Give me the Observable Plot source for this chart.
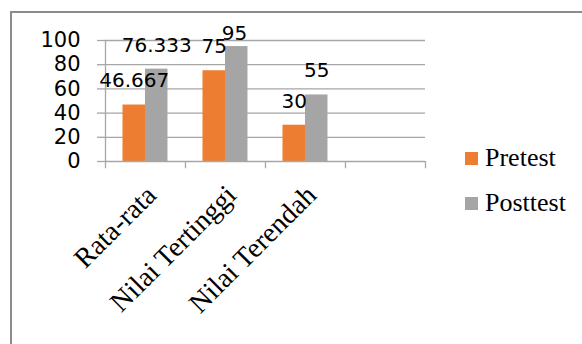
<!DOCTYPE html>
<html>
<head>
<meta charset="utf-8">
<script src="https://cdn.jsdelivr.net/npm/d3@7"></script>
<script src="https://cdn.jsdelivr.net/npm/@observablehq/plot@0.6"></script>
<style>
  html, body { margin: 0; padding: 0; background: #fff; }
  #wrap { position: relative; width: 582px; height: 344px; overflow: hidden; background: #fff; }
  #frame { position: absolute; left: 10px; top: 11px; width: 620px; height: 400px; border: 2px solid #8c8c8c; box-sizing: border-box; }
  #chart { position: absolute; left: 0; top: 0; }
  #legend { position: absolute; left: 465px; top: 142px; font-family: "Liberation Serif", serif; font-size: 26px; color: #000; }
  .item { display: flex; align-items: center; height: 32px; margin-bottom: 13px; }
  .sw { width: 13px; height: 13px; margin-right: 7px; }
</style>
</head>
<body>
<div id="wrap">
  <div id="frame"></div>
  <div id="chart"></div>
  <div id="legend"></div>
</div>
<script>
const categories = ["Rata-rata", "Nilai Tertinggi", "Nilai Terendah", ""];
const series = ["Pretest", "Posttest"];
const pretest = [46.667, 75, 30];
const posttest = [76.333, 95, 55];
const yTicks = [0, 20, 40, 60, 80, 100];
const colors = ["#ED7D31", "#A5A5A5"];

const data = categories.slice(0, 3).flatMap((c, i) => [
  {cat: c, series: series[0], value: pretest[i]},
  {cat: c, series: series[1], value: posttest[i]}
]);
const pre = data.filter(d => d.series === series[0]);
const post = data.filter(d => d.series === series[1]);
const grid = "#a6a6a6";

const chart = Plot.plot({
  width: 582,
  height: 344,
  marginLeft: 105,
  marginRight: 157,
  marginTop: 40,
  marginBottom: 183,
  style: {background: "transparent", overflow: "visible", color: "#000"},
  x: {domain: categories, padding: 0, axis: null},
  y: {domain: [0, 100], axis: null},
  marks: [
    Plot.ruleY(yTicks.slice(1), {stroke: grid, strokeWidth: 1.3}),
    Plot.barY(pre, {x: "cat", y: "value", fill: colors[0], insetLeft: 17.5, insetRight: 40}),
    Plot.barY(post, {x: "cat", y: "value", fill: colors[1], insetLeft: 40, insetRight: 17.5}),
    Plot.ruleY([0], {stroke: grid, strokeWidth: 1.3}),
    Plot.ruleX(categories, {x: d => d, dx: -40, y1: -6, y2: 0, stroke: grid, strokeWidth: 1.3}),
    Plot.ruleX(categories.slice(-1), {x: d => d, dx: 40, y1: -6, y2: 0, stroke: grid, strokeWidth: 1.3}),
    Plot.ruleX(categories.slice(0, 1), {x: d => d, dx: -40, y1: 0, y2: 100, stroke: grid, strokeWidth: 1.3}),
    Plot.axisY({ticks: yTicks, tickSize: 8, tickPadding: 17, stroke: grid, strokeWidth: 1.3, fill: "#000",
      fontSize: 21, fontFamily: "DejaVu Sans", label: null}),
    Plot.axisX({tickRotate: -45, tickSize: 0, tickPadding: 29, dx: 6, fontSize: 28, fill: "#000",
      fontFamily: "Liberation Serif", label: null}),
    Plot.text(pre.filter(d => d.value < 90), {x: "cat", y: "value", text: d => String(d.value), dx: -11.25, dy: -24,
      fontSize: 20, fontFamily: "DejaVu Sans", fill: "#000"}),
    Plot.text(post.filter(d => d.value < 90), {x: "cat", y: "value", text: d => String(d.value), dx: 11.25, dy: -24,
      fontSize: 20, fontFamily: "DejaVu Sans", fill: "#000"}),
    Plot.text(post.filter(d => d.value >= 90), {x: "cat", y: "value", text: d => String(d.value), dx: 9, dy: -13,
      fontSize: 20, fontFamily: "DejaVu Sans", fill: "#000"})
  ]
});
document.getElementById("chart").appendChild(chart);

const legend = document.getElementById("legend");
series.forEach((s, i) => {
  const item = document.createElement("div");
  item.className = "item";
  const sw = document.createElement("div");
  sw.className = "sw";
  sw.style.background = colors[i];
  const label = document.createElement("span");
  label.textContent = s;
  item.appendChild(sw);
  item.appendChild(label);
  legend.appendChild(item);
});
</script>
</body>
</html>
